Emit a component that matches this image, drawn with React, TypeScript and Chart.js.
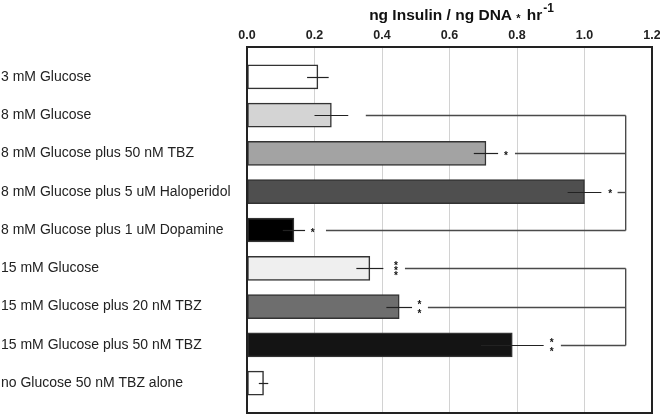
import React, { useEffect, useRef } from 'react';
import { Chart, registerables } from 'chart.js';

Chart.register(...registerables);

const categories: string[] = [
  '3 mM Glucose',
  '8 mM Glucose',
  '8 mM Glucose plus 50 nM TBZ',
  '8 mM Glucose plus 5 uM Haloperidol',
  '8 mM Glucose plus 1 uM Dopamine',
  '15 mM Glucose',
  '15 mM Glucose plus 20 nM TBZ',
  '15 mM Glucose plus 50 nM TBZ',
  'no Glucose 50 nM TBZ alone',
];

const means: number[] = [0.21, 0.25, 0.708, 1.0, 0.139, 0.364, 0.451, 0.786, 0.049];
const errors: number[] = [0.032, 0.05, 0.036, 0.05, 0.033, 0.04, 0.038, 0.093, 0.014];
const barColors: string[] = ['#ffffff', '#d4d4d4', '#a3a3a3', '#4f4f4f', '#000000', '#efefef', '#6e6e6e', '#141414', '#ffffff'];

const starCounts: number[] = [0, 0, 1, 1, 1, 3, 2, 2, 0];
const starX: (number | null)[] = [null, null, 0.767, 1.076, 0.195, 0.441, 0.511, 0.903, null];
const bracketStart: (number | null)[] = [null, 0.352, 0.794, 1.098, 0.234, 0.468, 0.536, 0.93, null];
const bracketGroups: [number, number][] = [[1, 4], [5, 7]];
const bracketX = 1.122;

const xTicks: number[] = [0, 0.2, 0.4, 0.6, 0.8, 1.0, 1.2];
const titleMain = 'ng Insulin / ng DNA';
const titleStar = '*';
const titleUnit = 'hr';
const titleSup = '-1';

const FONT = '"Liberation Sans", Arial, Helvetica, sans-serif';

const overlayPlugin = {
  id: 'overlay',
  afterDatasetsDraw(chart: any) {
    const ctx = chart.ctx as CanvasRenderingContext2D;
    const xs = chart.scales.x;
    const ys = chart.scales.y;
    ctx.save();
    // error bars
    ctx.strokeStyle = '#222';
    ctx.lineWidth = 1.2;
    means.forEach((m, i) => {
      const y = Math.round(ys.getPixelForValue(i)) + 0.5;
      ctx.beginPath();
      ctx.moveTo(xs.getPixelForValue(m - errors[i]), y);
      ctx.lineTo(xs.getPixelForValue(m + errors[i]), y);
      ctx.stroke();
    });
    // bracket lines
    ctx.strokeStyle = '#4a4a4a';
    ctx.lineWidth = 1.4;
    const bx = xs.getPixelForValue(bracketX);
    bracketStart.forEach((s, i) => {
      if (s === null) return;
      const y = Math.round(ys.getPixelForValue(i)) + 0.5;
      ctx.beginPath();
      ctx.moveTo(xs.getPixelForValue(s), y);
      ctx.lineTo(bx, y);
      ctx.stroke();
    });
    bracketGroups.forEach(([a, b]) => {
      ctx.beginPath();
      ctx.moveTo(bx, Math.round(ys.getPixelForValue(a)) + 0.5);
      ctx.lineTo(bx, Math.round(ys.getPixelForValue(b)) + 0.5);
      ctx.stroke();
    });
    // stars
    ctx.fillStyle = '#111';
    ctx.font = `bold 10px ${FONT}`;
    ctx.textAlign = 'center';
    ctx.textBaseline = 'alphabetic';
    starCounts.forEach((n, i) => {
      const sx = starX[i];
      if (!n || sx === null) return;
      const cy = ys.getPixelForValue(i);
      const sp = n === 3 ? 5.3 : 9;
      for (let k = 0; k < n; k++) {
        const yy = cy + (k - (n - 1) / 2) * sp;
        ctx.fillText('*', xs.getPixelForValue(sx), yy + 5.8);
      }
    });
    ctx.restore();
  },
  afterDraw(chart: any) {
    const ctx = chart.ctx as CanvasRenderingContext2D;
    const a = chart.chartArea;
    ctx.save();
    ctx.strokeStyle = '#222';
    ctx.lineWidth = 2;
    ctx.strokeRect(a.left, a.top, a.right - a.left, a.bottom - a.top);
    // title
    ctx.fillStyle = '#111';
    ctx.textBaseline = 'alphabetic';
    ctx.textAlign = 'left';
    const mainFont = `bold 15.5px ${FONT}`;
    const supFont = `bold 12px ${FONT}`;
    ctx.font = mainFont;
    const w1 = ctx.measureText(titleMain + ' ').width;
    const w2 = ctx.measureText(titleStar + ' ').width;
    const w3 = ctx.measureText(titleUnit).width;
    ctx.font = supFont;
    const w4 = ctx.measureText(titleSup).width;
    const total = w1 + w2 + w3 + w4 + 1;
    let x = (a.left + a.right) / 2 - total / 2 + 12;
    const base = 20;
    ctx.font = mainFont;
    ctx.fillText(titleMain + ' ', x, base);
    x += w1;
    ctx.font = `bold 11px ${FONT}`;
    ctx.fillText(titleStar, x, base + 2);
    ctx.font = mainFont;
    x += w2;
    ctx.fillText(titleUnit, x, base);
    x += w3 + 1;
    ctx.font = supFont;
    ctx.fillText(titleSup, x, base - 8);
    ctx.restore();
  },
};

export default function App() {
  const ref = useRef<HTMLCanvasElement | null>(null);
  useEffect(() => {
    if (!ref.current) return;
    const chart = new Chart(ref.current, {
      type: 'bar',
      data: {
        datasets: [
          {
            data: means.map((m, i) => ({ x: m, y: i })) as any,
            backgroundColor: barColors,
            borderColor: '#333',
            borderWidth: 1.5,
            borderSkipped: false,
            barThickness: 24,
          },
        ],
      },
      options: {
        indexAxis: 'y',
        responsive: false,
        animation: false,
        devicePixelRatio: 1,
        layout: { padding: { left: 1, right: 8, top: 0, bottom: 4 } },
        plugins: { legend: { display: false }, tooltip: { enabled: false } },
        scales: {
          x: {
            type: 'linear',
            position: 'top',
            min: 0,
            max: 1.2,
            offset: false,
            afterBuildTicks: (scale: any) => {
              scale.ticks = xTicks.map((v) => ({ value: v }));
            },
            afterFit: (scale: any) => {
              scale.height = 47;
              scale.paddingLeft = 0;
              scale.paddingRight = 0;
            },
            grid: { color: '#d2d2d2', lineWidth: 1, drawTicks: false, offset: false },
            border: { display: false },
            ticks: {
              padding: 4,
              color: '#222',
              font: { family: FONT, size: 12.5, weight: 'bold' },
              callback: (v: any) => Number(v).toFixed(1),
            },
          },
          y: {
            type: 'linear',
            reverse: true,
            min: -0.778,
            max: 8.778,
            offset: false,
            bounds: 'data',
            afterBuildTicks: (scale: any) => {
              scale.ticks = categories.map((_, i) => ({ value: i }));
            },
            afterFit: (scale: any) => {
              scale.width = 246;
              scale.paddingTop = 0;
              scale.paddingBottom = 0;
            },
            grid: { display: false, offset: false },
            border: { display: false },
            ticks: {
              crossAlign: 'far',
              color: '#222',
              font: { family: FONT, size: 14 },
              callback: (v: any) => categories[v] ?? '',
            },
          },
        },
      } as any,
      plugins: [overlayPlugin],
    });
    return () => chart.destroy();
  }, []);
  return (
    <div style={{ position: 'fixed', left: 0, top: 0, width: 660, height: 417, background: '#fff' }}>
      <canvas ref={ref} width={660} height={417} />
    </div>
  );
}
